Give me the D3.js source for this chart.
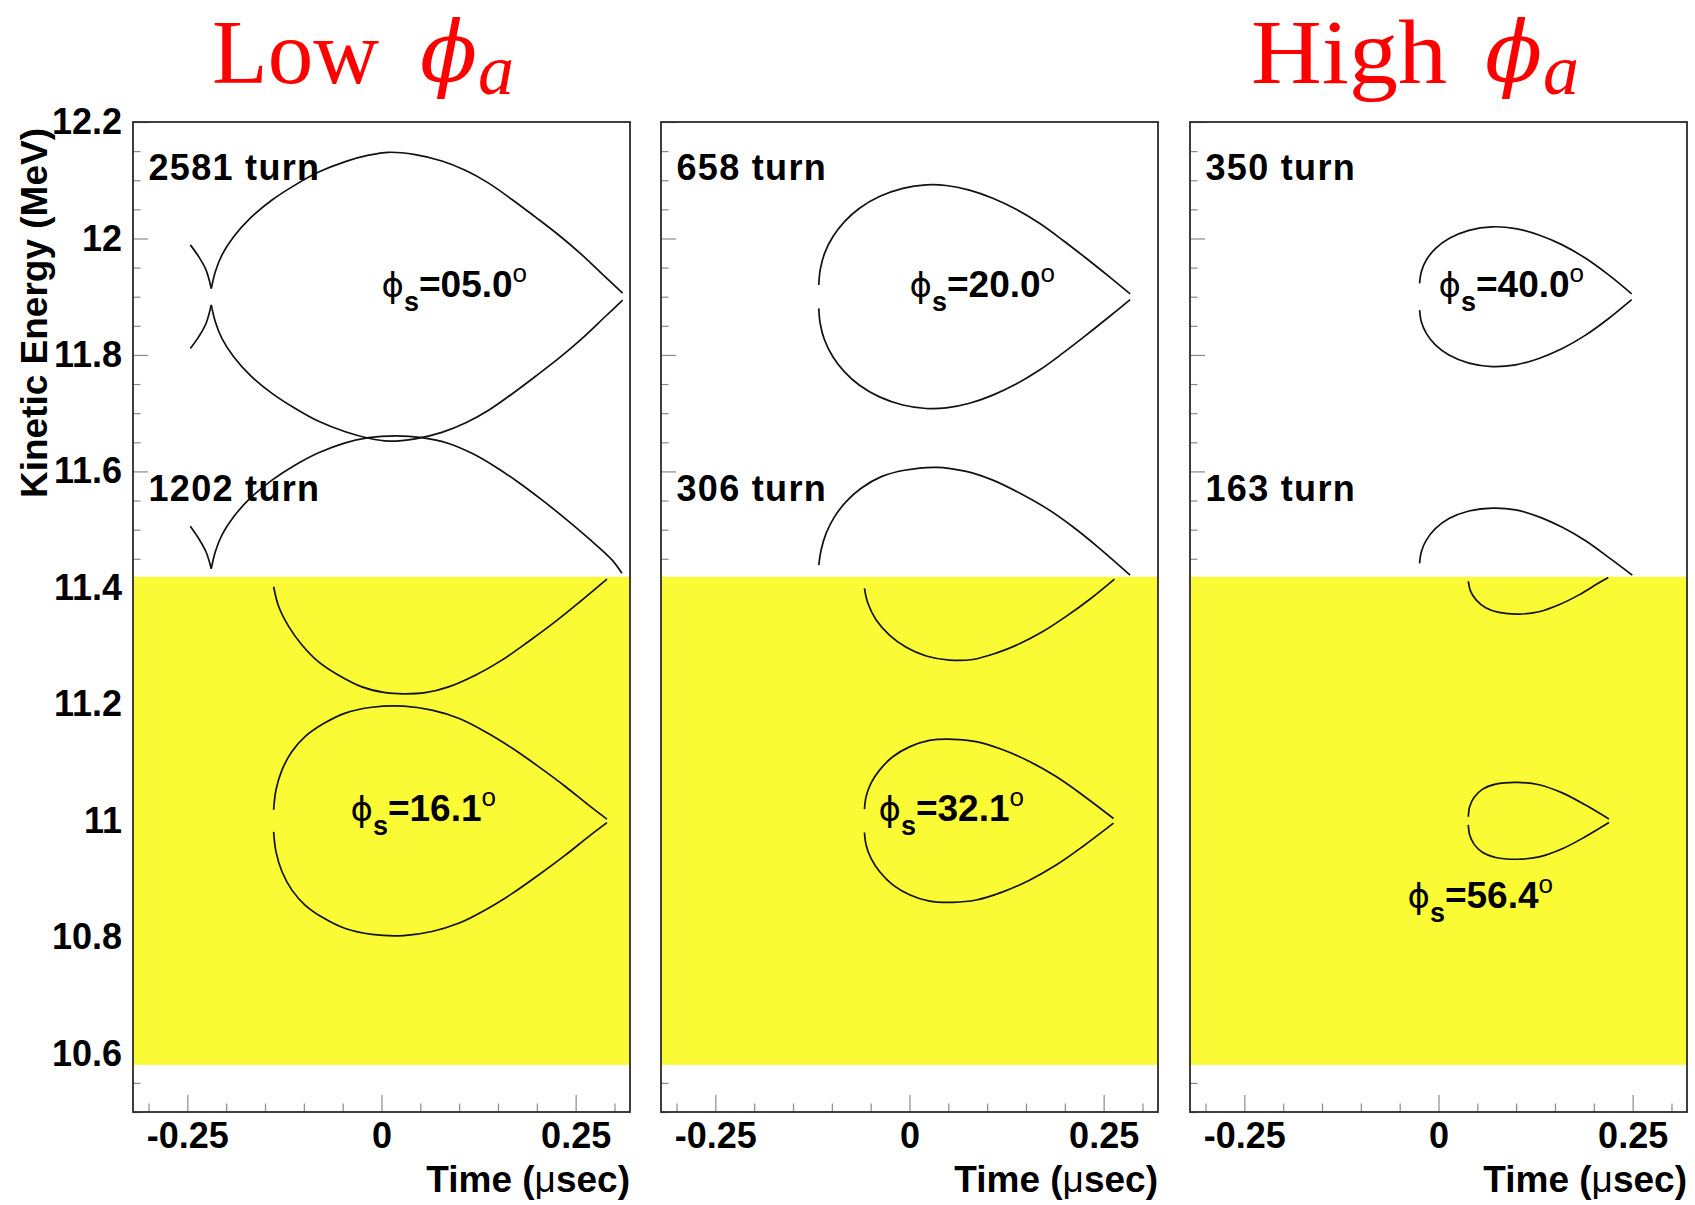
<!DOCTYPE html>
<html><head><meta charset="utf-8">
<script src="https://cdn.jsdelivr.net/npm/d3@7"></script>
<style>body{margin:0;background:#fff} svg{display:block}</style>
</head><body><svg id="c" width="1695" height="1205"></svg>
<script>
// ---------- data ----------
const timeDomain = [-0.32, 0.32];
const energyDomain = [10.5, 12.2];
const timeTicks = [-0.25, 0, 0.25];
const timeTickLabels = ["-0.25", "0", "0.25"];
const timeMinorTicks = [-0.3, -0.2, -0.15, -0.1, -0.05, 0.05, 0.1, 0.15, 0.2, 0.3];
const energyTicks = [10.6, 10.8, 11.0, 11.2, 11.4, 11.6, 11.8, 12.0, 12.2];
const energyTickLabels = ["10.6", "10.8", "11", "11.2", "11.4", "11.6", "11.8", "12", "12.2"];
const energyMinorTicks = [10.5, 10.55, 10.65, 10.7, 10.75, 10.85, 10.9, 10.95, 11.05, 11.1, 11.15,
  11.25, 11.3, 11.35, 11.45, 11.5, 11.55, 11.65, 11.7, 11.75, 11.85, 11.9, 11.95, 12.05, 12.1, 12.15];
const acceptanceBand = [10.581, 11.419];

const turnLabels = [["2581 turn", "1202 turn"], ["658 turn", "306 turn"], ["350 turn", "163 turn"]];
const turnLabelPos = [[-0.30, 12.10], [-0.30, 11.55]];
const phaseValues = [["05.0", "16.1"], ["20.0", "32.1"], ["40.0", "56.4"]];
const phasePos = [[[0.0, 11.9], [-0.04, 11.0]], [[0.0, 11.9], [-0.04, 11.0]], [[0.0, 11.9], [-0.04, 10.85]]];

// Panel 1 (phi_s = 5.0 / 16.1)
const p1UpperCuspTop = [[-0.2462,11.989],[-0.2355,11.969],[-0.2260,11.946],[-0.2192,11.914]];
const p1UpperArcTop = [[-0.2192,11.914],[-0.2140,11.943],[-0.2054,11.972],[-0.1904,12.003],[-0.1690,12.035],[-0.1410,12.066],[-0.1110,12.092],[-0.0810,12.114],[-0.0466,12.132],[-0.0166,12.143],[0.0092,12.148],[0.0435,12.144],[0.0778,12.133],[0.1079,12.117],[0.1379,12.095],[0.1680,12.067],[0.1980,12.037],[0.2281,12.006],[0.2581,11.972],[0.2882,11.934],[0.3105,11.906]];
const p1UpperArcBottom = [[-0.2192,11.886],[-0.2140,11.857],[-0.2054,11.828],[-0.1904,11.797],[-0.1690,11.765],[-0.1410,11.734],[-0.1110,11.708],[-0.0810,11.686],[-0.0466,11.668],[-0.0166,11.657],[0.0092,11.652],[0.0435,11.656],[0.0778,11.667],[0.1079,11.683],[0.1379,11.705],[0.1680,11.733],[0.1980,11.763],[0.2281,11.794],[0.2581,11.828],[0.2882,11.866],[0.3105,11.894]];
const p1UpperCuspBottom = [[-0.2462,11.811],[-0.2355,11.831],[-0.2260,11.854],[-0.2192,11.886]];
const p1LowerCusp = [[-0.2462,11.506],[-0.2355,11.485],[-0.2260,11.462],[-0.2192,11.433]];
const p1LowerOuter = [[-0.2192,11.433],[-0.2140,11.462],[-0.2054,11.491],[-0.1904,11.522],[-0.1690,11.554],[-0.1410,11.585],[-0.1110,11.611],[-0.0810,11.632],[-0.0466,11.649],[-0.0166,11.658],[0.0178,11.661],[0.0521,11.658],[0.0864,11.648],[0.1165,11.631],[0.1465,11.608],[0.1766,11.581],[0.2066,11.551],[0.2367,11.519],[0.2667,11.485],[0.2968,11.448],[0.3096,11.425]];
const p1BandOuter = [[-0.1389,11.402],[-0.1324,11.368],[-0.1196,11.334],[-0.1024,11.302],[-0.0810,11.273],[-0.0552,11.250],[-0.0252,11.230],[0.0049,11.220],[0.0285,11.218],[0.0564,11.220],[0.0864,11.230],[0.1208,11.250],[0.1551,11.276],[0.1894,11.308],[0.2238,11.342],[0.2581,11.379],[0.2903,11.415]];
const p1BucketTop = [[-0.1389,11.019],[-0.1359,11.053],[-0.1282,11.087],[-0.1153,11.119],[-0.0981,11.145],[-0.0745,11.167],[-0.0466,11.185],[-0.0123,11.195],[0.0285,11.197],[0.0650,11.190],[0.0993,11.176],[0.1336,11.153],[0.1680,11.125],[0.2023,11.093],[0.2367,11.059],[0.2667,11.027],[0.2903,11.003]];
const p1BucketBottom = [[-0.1389,10.981],[-0.1359,10.947],[-0.1282,10.913],[-0.1153,10.881],[-0.0981,10.855],[-0.0745,10.833],[-0.0466,10.815],[-0.0123,10.805],[0.0285,10.803],[0.0650,10.810],[0.0993,10.824],[0.1336,10.847],[0.1680,10.875],[0.2023,10.907],[0.2367,10.941],[0.2667,10.973],[0.2903,10.997]];

// Panel 2 (phi_s = 20.0 / 32.1)
const p2UpperTop = [[-0.1168,11.920],[-0.1150,11.946],[-0.1095,11.974],[-0.0987,12.003],[-0.0837,12.029],[-0.0644,12.052],[-0.0387,12.072],[-0.0086,12.086],[0.0214,12.092],[0.0472,12.091],[0.0772,12.083],[0.1073,12.069],[0.1373,12.050],[0.1674,12.026],[0.1974,11.997],[0.2275,11.966],[0.2575,11.934],[0.2841,11.905]];
const p2UpperBottom = [[-0.1168,11.880],[-0.1150,11.854],[-0.1095,11.826],[-0.0987,11.797],[-0.0837,11.771],[-0.0644,11.748],[-0.0387,11.728],[-0.0086,11.714],[0.0214,11.708],[0.0472,11.709],[0.0772,11.717],[0.1073,11.731],[0.1373,11.750],[0.1674,11.774],[0.1974,11.803],[0.2275,11.834],[0.2575,11.866],[0.2841,11.895]];
const p2LowerOuter = [[-0.1168,11.439],[-0.1138,11.465],[-0.1073,11.494],[-0.0966,11.522],[-0.0816,11.548],[-0.0623,11.571],[-0.0362,11.591],[-0.0065,11.602],[0.0343,11.607],[0.0730,11.600],[0.1073,11.585],[0.1416,11.563],[0.1760,11.537],[0.2103,11.505],[0.2446,11.468],[0.2841,11.422]];
const p2BandOuter = [[-0.0580,11.399],[-0.0537,11.374],[-0.0429,11.345],[-0.0258,11.319],[-0.0043,11.298],[0.0215,11.283],[0.0515,11.276],[0.0815,11.277],[0.1116,11.288],[0.1416,11.304],[0.1717,11.325],[0.2017,11.351],[0.2318,11.380],[0.2640,11.415]];
const p2BucketTop = [[-0.0580,11.020],[-0.0558,11.042],[-0.0494,11.065],[-0.0386,11.087],[-0.0215,11.110],[0.0000,11.127],[0.0258,11.138],[0.0558,11.140],[0.0858,11.136],[0.1202,11.122],[0.1545,11.102],[0.1888,11.076],[0.2232,11.044],[0.2627,11.004]];
const p2BucketBottom = [[-0.0580,10.980],[-0.0558,10.958],[-0.0494,10.935],[-0.0386,10.913],[-0.0215,10.890],[0.0000,10.873],[0.0258,10.862],[0.0558,10.860],[0.0858,10.864],[0.1202,10.878],[0.1545,10.898],[0.1888,10.924],[0.2232,10.956],[0.2627,10.996]];

// Panel 3 (phi_s = 40.0 / 56.4)
const p3UpperTop = [[-0.0243,11.923],[-0.0221,11.943],[-0.0157,11.963],[-0.0037,11.983],[0.0135,12.000],[0.0392,12.014],[0.0692,12.020],[0.0993,12.017],[0.1293,12.006],[0.1594,11.989],[0.1894,11.966],[0.2195,11.937],[0.2487,11.905]];
const p3UpperBottom = [[-0.0243,11.877],[-0.0221,11.857],[-0.0157,11.837],[-0.0037,11.817],[0.0135,11.800],[0.0392,11.786],[0.0692,11.780],[0.0993,11.783],[0.1293,11.794],[0.1594,11.811],[0.1894,11.834],[0.2195,11.863],[0.2487,11.895]];
const p3LowerOuter = [[-0.0243,11.442],[-0.0221,11.462],[-0.0157,11.482],[-0.0037,11.502],[0.0135,11.519],[0.0392,11.532],[0.0692,11.537],[0.0993,11.534],[0.1293,11.522],[0.1594,11.504],[0.1894,11.481],[0.2195,11.452],[0.2495,11.422]];
const p3BandOuter = [[0.0384,11.411],[0.0414,11.394],[0.0487,11.379],[0.0607,11.366],[0.0779,11.358],[0.1036,11.355],[0.1294,11.359],[0.1551,11.371],[0.1809,11.388],[0.2045,11.407],[0.2186,11.418]];
const p3BucketTop = [[0.0384,11.007],[0.0401,11.024],[0.0457,11.040],[0.0564,11.054],[0.0736,11.063],[0.1015,11.066],[0.1294,11.062],[0.1594,11.048],[0.1894,11.027],[0.2195,11.003]];
const p3BucketBottom = [[0.0384,10.993],[0.0401,10.976],[0.0457,10.960],[0.0564,10.946],[0.0736,10.937],[0.1015,10.934],[0.1294,10.938],[0.1594,10.952],[0.1894,10.973],[0.2195,10.997]];

const panelCurves = [
  [p1UpperCuspTop, p1UpperArcTop, p1UpperArcBottom, p1UpperCuspBottom, p1LowerCusp, p1LowerOuter, p1BandOuter, p1BucketTop, p1BucketBottom],
  [p2UpperTop, p2UpperBottom, p2LowerOuter, p2BandOuter, p2BucketTop, p2BucketBottom],
  [p3UpperTop, p3UpperBottom, p3LowerOuter, p3BandOuter, p3BucketTop, p3BucketBottom]
];

// ---------- layout ----------
const svg = d3.select("#c");
const panelLeft = [133, 661, 1190];
const panelW = 497;
const plotTop = 122, plotBottom = 1112;
const SANS = "'Liberation Sans', Arial, Helvetica, sans-serif";
const SERIF = "'Liberation Serif', 'Times New Roman', serif";

svg.append("rect").attr("width", 1695).attr("height", 1205).attr("fill", "#fff");

panelLeft.forEach((L, i) => {
  const x = d3.scaleLinear().domain(timeDomain).range([L, L + panelW]);
  const y = d3.scaleLinear().domain(energyDomain).range([plotBottom, plotTop]);
  const g = svg.append("g");

  const styleAxis = sel => {
    sel.select(".domain").remove();
    sel.selectAll(".tick line").attr("stroke", "#8a8a8a").attr("stroke-width", 1.2);
    sel.selectAll(".tick text").attr("fill", "#000").style("font-family", SANS)
      .style("font-weight", "bold").style("font-size", "36px");
  };

  // y ticks
  g.append("g").attr("transform", `translate(${L},0)`)
    .call(d3.axisLeft(y).tickValues(energyMinorTicks).tickSize(-7.5).tickFormat(""))
    .call(styleAxis);
  g.append("g").attr("transform", `translate(${L},0)`)
    .call(d3.axisLeft(y).tickValues(energyTicks).tickSize(-15).tickPadding(11)
      .tickFormat((d, j) => i === 0 ? energyTickLabels[j] : ""))
    .call(styleAxis);
  // x ticks
  g.append("g").attr("transform", `translate(0,${plotBottom})`)
    .call(d3.axisBottom(x).tickValues(timeMinorTicks).tickSize(-8.5).tickFormat(""))
    .call(styleAxis);
  g.append("g").attr("transform", `translate(0,${plotBottom})`)
    .call(d3.axisBottom(x).tickValues(timeTicks).tickSize(-17).tickPadding(10)
      .tickFormat((d, j) => timeTickLabels[j]))
    .call(styleAxis);

  // yellow acceptance band
  g.append("rect")
    .attr("x", x(timeDomain[0])).attr("width", x(timeDomain[1]) - x(timeDomain[0]))
    .attr("y", y(acceptanceBand[1])).attr("height", y(acceptanceBand[0]) - y(acceptanceBand[1]))
    .attr("fill", "#fbfb35");

  // separatrix curves
  const line = d3.line().x(d => x(d[0])).y(d => y(d[1])).curve(d3.curveCatmullRom.alpha(0.5));
  g.selectAll("path.sep").data(panelCurves[i]).join("path").attr("class", "sep")
    .attr("d", line).attr("fill", "none").attr("stroke", "#111").attr("stroke-width", 1.7);

  // frame
  g.append("rect").attr("x", L).attr("y", plotTop).attr("width", panelW).attr("height", plotBottom - plotTop)
    .attr("fill", "none").attr("stroke", "#2a2a2a").attr("stroke-width", 1.8);

  // turn labels
  turnLabels[i].forEach((t, k) => {
    g.append("text").attr("x", x(turnLabelPos[k][0])).attr("y", y(turnLabelPos[k][1]))
      .style("font-family", SANS).style("font-weight", "bold").style("font-size", "36px")
      .style("letter-spacing", "1.3px").text(t);
  });

  // phi_s labels
  phaseValues[i].forEach((v, k) => {
    const p = phasePos[i][k];
    const t = g.append("text").attr("x", x(p[0])).attr("y", y(p[1]))
      .style("font-family", SANS).style("font-weight", "bold").style("font-size", "37px");
    t.append("tspan").text("\u03D5").style("font-family", "'DejaVu Sans', sans-serif")
      .style("font-weight", "normal").style("font-size", "34px");
    t.append("tspan").text("s").attr("dy", 14).style("font-size", "27px");
    t.append("tspan").text("=" + v).attr("dy", -14);
    t.append("tspan").text("o").attr("dy", -15).style("font-size", "26px").style("font-weight", "normal");
  });

  // x axis title
  const xt = g.append("text").attr("x", L + panelW).attr("y", 1192).attr("text-anchor", "end")
    .style("font-family", SANS).style("font-weight", "bold").style("font-size", "37px");
  xt.append("tspan").text("Time (");
  xt.append("tspan").text("\u03BC").style("font-weight", "normal");
  xt.append("tspan").text("sec)");
});

// y axis title
svg.append("text").attr("transform", "translate(47,128) rotate(-90)").attr("text-anchor", "end")
  .style("font-family", SANS).style("font-weight", "bold").style("font-size", "37px")
  .text("Kinetic Energy (MeV)");

// red titles
const titleWords = ["Low", "High"];
const titlePanels = [0, 2];
const titleOffsets = [[79, 167, 287, 345], [61, 196, 295, 353]];
titleWords.forEach((w, k) => {
  const L = panelLeft[titlePanels[k]];
  const o = titleOffsets[k];
  svg.append("text").attr("x", L + o[0]).attr("y", 83).attr("fill", "#f00")
    .attr("textLength", o[1]).attr("lengthAdjust", "spacingAndGlyphs")
    .style("font-family", SERIF).style("font-size", "92px").text(w);
  svg.append("text").attr("x", L + o[2]).attr("y", 81).attr("fill", "#f00")
    .style("font-family", "'DejaVu Serif', serif").style("font-style", "italic").style("font-size", "84px")
    .text("\u03D5");
  svg.append("text").attr("x", L + o[3]).attr("y", 94).attr("fill", "#f00")
    .style("font-family", SERIF).style("font-style", "italic").style("font-size", "72px").text("a");
});
</script></body></html>
